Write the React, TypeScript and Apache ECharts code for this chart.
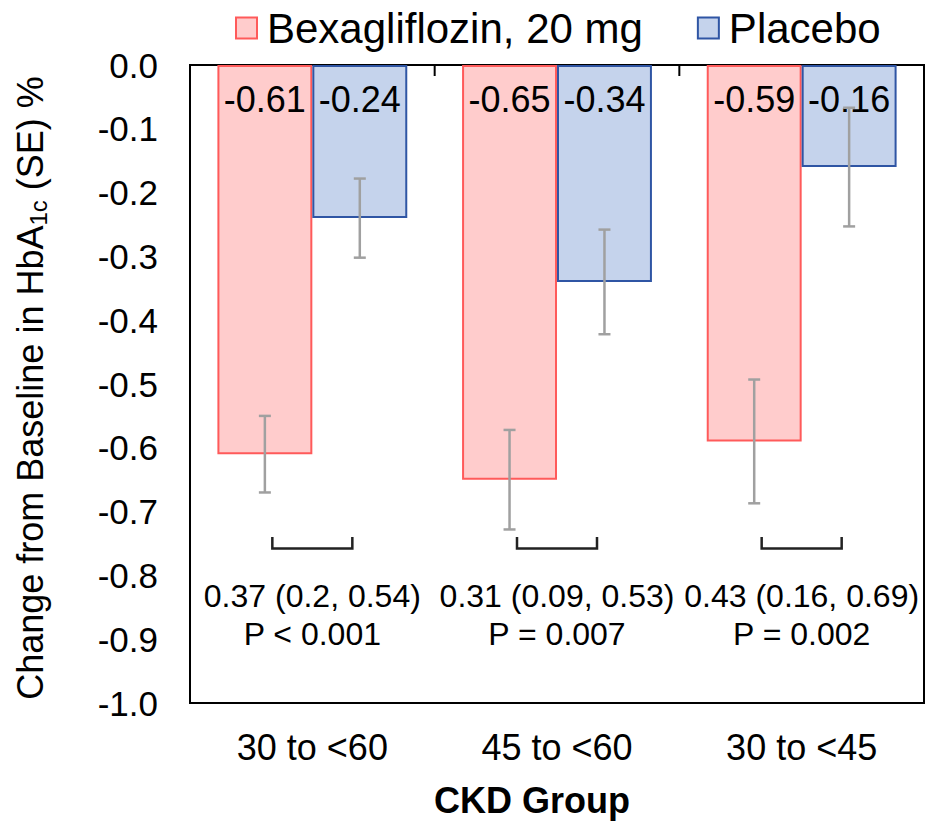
import React, { useEffect, useRef } from "react";
import * as echarts from "echarts";

const categories = ["30 to <60", "45 to <60", "30 to <45"];
const bexValues = [-0.61, -0.65, -0.59];
const placeboValues = [-0.24, -0.34, -0.16];
const bexSE = [0.06, 0.078, 0.097];
const placeboSE = [0.062, 0.082, 0.093];
const diffLabels = ["0.37 (0.2, 0.54)", "0.31 (0.09, 0.53)", "0.43 (0.16, 0.69)"];
const pLabels = ["P < 0.001", "P = 0.007", "P = 0.002"];
const seriesNames = ["Bexagliflozin, 20 mg", "Placebo"];

const FONT = "'Liberation Sans', Arial, sans-serif";
const BAR_FRAC = 0.388;
const BRACKET_TOP = -0.74;
const BRACKET_BOTTOM = -0.758;
const DIFF_Y = -0.833;
const P_Y = -0.892;

function errorSeries(values: number[], se: number[], side: number) {
  return {
    type: "custom",
    xAxisIndex: 0,
    yAxisIndex: 0,
    silent: true,
    z: 5,
    data: values.map((v, i) => [i, v - se[i], v + se[i]]),
    renderItem: (params: any, api: any) => {
      const cat = api.value(0);
      const lo = api.coord([cat, api.value(1)]);
      const hi = api.coord([cat, api.value(2)]);
      const band = api.size([1, 0])[0];
      const x = lo[0] + side * band * BAR_FRAC / 2;
      const cap = 6;
      const style = { stroke: "#a0a0a0", lineWidth: 2.5 };
      return {
        type: "group",
        children: [
          { type: "line", shape: { x1: x, y1: lo[1], x2: x, y2: hi[1] }, style },
          { type: "line", shape: { x1: x - cap, y1: lo[1], x2: x + cap, y2: lo[1] }, style },
          { type: "line", shape: { x1: x - cap, y1: hi[1], x2: x + cap, y2: hi[1] }, style },
        ],
      };
    },
  };
}

export default function App() {
  const ref = useRef<HTMLDivElement>(null);
  useEffect(() => {
    if (!ref.current) return;
    const chart = echarts.init(ref.current, null, { renderer: "svg" });
    const option: any = {
      animation: false,
      backgroundColor: "#fff",
      legend: {
        left: 230,
        top: 2,
        itemWidth: 21,
        itemHeight: 21,
        itemGap: 54,
        icon: "rect",
        data: seriesNames,
        textStyle: { fontSize: 42, color: "#000", fontFamily: FONT, padding: [0, 0, 0, 5] },
      },
      grid: {
        left: 190,
        right: 5,
        top: 65,
        bottom: 120,
        show: true,
        borderColor: "#000",
        borderWidth: 2,
        containLabel: false,
      },
      xAxis: [
        {
          type: "category",
          data: categories,
          position: "bottom",
          axisLine: { show: true, onZero: false, lineStyle: { color: "#000", width: 2 } },
          axisTick: { show: false },
          axisLabel: { fontSize: 36, color: "#000", fontFamily: FONT, margin: 26 },
          splitLine: { show: false },
        },
      ],
      yAxis: {
        type: "value",
        min: -1,
        max: 0,
        interval: 0.1,
        axisLine: { show: true, lineStyle: { color: "#000", width: 2 } },
        axisTick: { show: false },
        splitLine: { show: false },
        axisLabel: {
          fontSize: 35,
          color: "#000",
          fontFamily: FONT,
          margin: 32,
          formatter: (v: number) => v.toFixed(1),
        },
      },
      series: [
        {
          name: seriesNames[0],
          type: "bar",
          data: bexValues,
          barWidth: BAR_FRAC * 100 + "%",
          barGap: "0%",
          itemStyle: { color: "#ffcccc", borderColor: "#ff5a5a", borderWidth: 2 },
          label: {
            show: true,
            position: "insideTop",
            distance: 16,
            fontSize: 36,
            color: "#000",
            fontFamily: FONT,
            formatter: (p: any) => p.value.toFixed(2),
          },
        },
        {
          name: seriesNames[1],
          type: "bar",
          data: placeboValues,
          barWidth: BAR_FRAC * 100 + "%",
          barGap: "0%",
          itemStyle: { color: "#c5d3ec", borderColor: "#2f55a4", borderWidth: 2 },
          label: {
            show: true,
            position: "insideTop",
            distance: 16,
            fontSize: 36,
            color: "#000",
            fontFamily: FONT,
            formatter: (p: any) => p.value.toFixed(2),
          },
        },
        errorSeries(bexValues, bexSE, -1),
        errorSeries(placeboValues, placeboSE, 1),
        {
          type: "custom",
          silent: true,
          z: 6,
          data: categories.map((_, i) => [i]),
          renderItem: (params: any, api: any) => {
            const i = api.value(0);
            const top = api.coord([i, BRACKET_TOP]);
            const bot = api.coord([i, BRACKET_BOTTOM]);
            const zero = api.coord([i, 0]);
            const band = api.size([1, 0])[0];
            const half = 40;
            const cx = top[0];
            const dy = api.coord([i, DIFF_Y]);
            const py = api.coord([i, P_Y]);
            const children: any[] = [
              {
                type: "polyline",
                shape: {
                  points: [
                    [cx - half, top[1]],
                    [cx - half, bot[1]],
                    [cx + half, bot[1]],
                    [cx + half, top[1]],
                  ],
                },
                style: { stroke: "#222", lineWidth: 2.5, fill: null },
              },
              {
                type: "text",
                x: cx,
                y: dy[1],
                style: {
                  text: diffLabels[i],
                  fontSize: 32,
                  fontFamily: FONT,
                  fill: "#000",
                  align: "center",
                  verticalAlign: "middle",
                },
              },
              {
                type: "text",
                x: cx,
                y: py[1],
                style: {
                  text: pLabels[i],
                  fontSize: 32,
                  fontFamily: FONT,
                  fill: "#000",
                  align: "center",
                  verticalAlign: "middle",
                },
              },
            ];
            if (i > 0) {
              const bx = cx - band / 2;
              children.push({
                type: "line",
                shape: { x1: bx, y1: zero[1], x2: bx, y2: zero[1] + 11 },
                style: { stroke: "#000", lineWidth: 2 },
              });
            }
            return { type: "group", children };
          },
        },
      ],
      graphic: [
        {
          type: "text",
          x: 532,
          y: 800,
          style: {
            text: "CKD Group",
            fontSize: 36,
            fontWeight: "bold",
            fontFamily: FONT,
            fill: "#000",
            align: "center",
            verticalAlign: "middle",
          },
        },
        {
          type: "text",
          x: 30,
          y: 388,
          rotation: Math.PI / 2,
          style: {
            text: "{m|Change from Baseline in HbA}{s|1c}{m| (SE) %}",
            fontFamily: FONT,
            fill: "#000",
            align: "center",
            verticalAlign: "middle",
            rich: {
              m: { fontSize: 36, fontFamily: FONT, lineHeight: 40, fill: "#000" },
              s: { fontSize: 24, fontFamily: FONT, lineHeight: 18, verticalAlign: "bottom", fill: "#000" },
            },
          },
        },
      ],
    };
    chart.setOption(option);
    return () => chart.dispose();
  }, []);
  return (
    <div
      ref={ref}
      style={{ position: "absolute", left: 0, top: 0, width: 929, height: 823, background: "#fff" }}
    />
  );
}
